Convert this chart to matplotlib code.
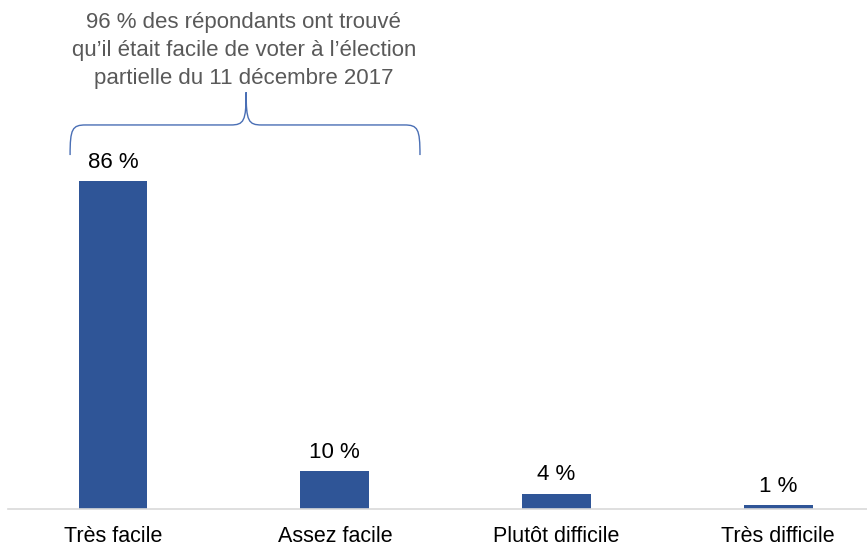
import matplotlib.pyplot as plt
from matplotlib.path import Path
from matplotlib.patches import PathPatch

categories = ["Très facile", "Assez facile", "Plutôt difficile", "Très difficile"]
values = [86, 10, 4, 1]
labels = ["86 %", "10 %", "4 %", "1 %"]
note = "96 % des répondants ont trouvé\nqu\u2019il était facile de voter à l\u2019élection\npartielle du 11 décembre 2017"

plt.rcParams["font.family"] = ["Liberation Sans", "DejaVu Sans"]

bar_color = "#2F5597"

fig = plt.figure(figsize=(8.67, 5.48), dpi=100)
# axes from x=8px to right edge, baseline at y=509px
ax = fig.add_axes([8 / 867, (548 - 509) / 548, 859 / 867, 509 / 548])

x = list(range(len(categories)))
ax.bar(x, values, width=0.31, color=bar_color)
for xi, v, lab in zip(x, values, labels):
    ax.text(xi, v + 2.2, lab, ha="center", va="bottom", fontsize=16, color="black")

ax.set_xlim(-0.474, 3.40)
ax.set_ylim(0, 133.6)
ax.set_yticks([])
ax.set_xticks(x)
ax.set_xticklabels(categories, fontsize=15.5)
ax.tick_params(axis="x", length=0, pad=12)
for s in ["top", "right", "left"]:
    ax.spines[s].set_visible(False)
ax.spines["bottom"].set_color("#D9D9D9")
ax.spines["bottom"].set_linewidth(1.2)

# curly brace
x0, x1, xm = -0.194, 1.384, 0.60
yb, yh, yt = 92.9, 100.8, 109.4
dx = 0.07
verts = [
    (x0, yb), (x0, yh - 1), (x0 + 0.01, yh), (x0 + dx, yh),
    (xm - dx, yh),
    (xm - 0.01, yh), (xm, yh + 1), (xm, yt),
    (xm, yh + 1), (xm + 0.01, yh), (xm + dx, yh),
    (x1 - dx, yh),
    (x1 - 0.01, yh), (x1, yh - 1), (x1, yb),
]
codes = [
    Path.MOVETO, Path.CURVE4, Path.CURVE4, Path.CURVE4,
    Path.LINETO,
    Path.CURVE4, Path.CURVE4, Path.CURVE4,
    Path.CURVE4, Path.CURVE4, Path.CURVE4,
    Path.LINETO,
    Path.CURVE4, Path.CURVE4, Path.CURVE4,
]
ax.add_patch(PathPatch(Path(verts, codes), fill=False, edgecolor="#4A6FB5", lw=1.0, clip_on=False))

ax.text(xm - 0.01, 120.3, note, ha="center", va="center", fontsize=16,
        color="#595959", linespacing=1.45)

fig.savefig("out.png", dpi=100)
